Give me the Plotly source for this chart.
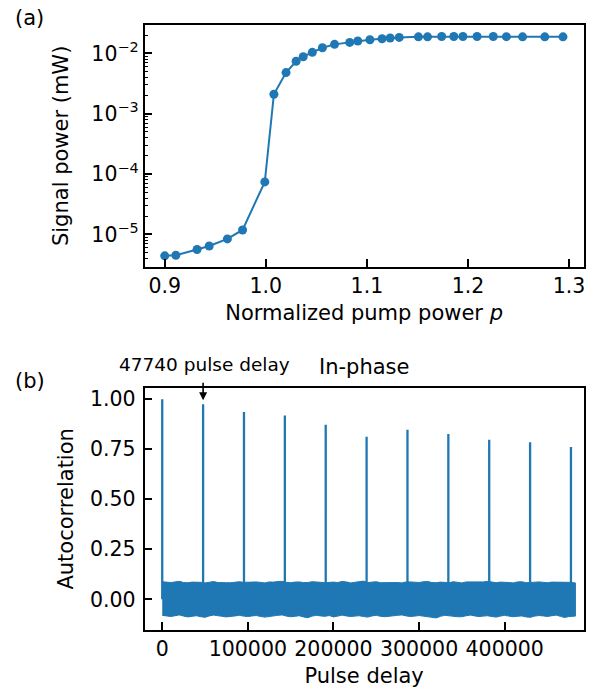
import plotly.graph_objects as go

# panel (a): signal power vs normalized pump power
pump = [0.900, 0.911, 0.932, 0.944, 0.962, 0.977, 0.999, 1.008, 1.020, 1.030,
        1.037, 1.046, 1.056, 1.068, 1.083, 1.091, 1.103, 1.115, 1.123, 1.132,
        1.151, 1.160, 1.174, 1.186, 1.195, 1.209, 1.225, 1.238, 1.254, 1.276, 1.294]
signal = [4.4e-6, 4.5e-6, 5.6e-6, 6.4e-6, 8.4e-6, 1.18e-5, 7.4e-5, 2.1e-3, 4.8e-3, 7.4e-3,
          8.8e-3, 1.04e-2, 1.24e-2, 1.41e-2, 1.52e-2, 1.60e-2, 1.68e-2, 1.75e-2, 1.80e-2, 1.84e-2,
          1.88e-2, 1.88e-2, 1.90e-2, 1.90e-2, 1.90e-2, 1.90e-2, 1.90e-2, 1.89e-2, 1.88e-2, 1.88e-2, 1.88e-2]

# panel (b): autocorrelation peaks
peak_delay = [0, 47740, 95480, 143220, 190960, 238700, 286440, 334180, 381920, 429660, 477400]
peak_height = [1.0, 0.975, 0.936, 0.919, 0.873, 0.813, 0.848, 0.826, 0.798, 0.785, 0.761]

# noise floor envelope
noise_delay = [0, 5000, 10000, 15000, 20000, 25000, 30000, 35000, 40000, 45000,
               50000, 55000, 60000, 65000, 70000, 75000, 80000, 85000, 90000, 95000,
               100000, 105000, 110000, 115000, 120000, 125000, 130000, 135000, 140000, 145000,
               150000, 155000, 160000, 165000, 170000, 175000, 180000, 185000, 190000, 195000,
               200000, 205000, 210000, 215000, 220000, 225000, 230000, 235000, 240000, 245000,
               250000, 255000, 260000, 265000, 270000, 275000, 280000, 285000, 290000, 295000,
               300000, 305000, 310000, 315000, 320000, 325000, 330000, 335000, 340000, 345000,
               350000, 355000, 360000, 365000, 370000, 375000, 380000, 385000, 390000, 395000,
               400000, 405000, 410000, 415000, 420000, 425000, 430000, 435000, 440000, 445000,
               450000, 455000, 460000, 465000, 470000, 475000, 482600]
noise_upper = [0.088, 0.085, 0.084, 0.087, 0.090, 0.084, 0.083, 0.086, 0.087, 0.085,
               0.082, 0.086, 0.089, 0.084, 0.085, 0.083, 0.083, 0.087, 0.088, 0.085,
               0.084, 0.086, 0.087, 0.083, 0.082, 0.087, 0.086, 0.089, 0.090, 0.085,
               0.083, 0.086, 0.087, 0.084, 0.084, 0.088, 0.088, 0.085, 0.083, 0.086,
               0.086, 0.084, 0.089, 0.087, 0.082, 0.085, 0.087, 0.091, 0.084, 0.086,
               0.088, 0.083, 0.083, 0.086, 0.086, 0.084, 0.082, 0.087, 0.087, 0.085,
               0.084, 0.088, 0.089, 0.084, 0.083, 0.086, 0.086, 0.083, 0.088, 0.085,
               0.082, 0.087, 0.087, 0.084, 0.084, 0.087, 0.090, 0.085, 0.083, 0.086,
               0.086, 0.084, 0.082, 0.087, 0.088, 0.083, 0.084, 0.086, 0.087, 0.085,
               0.083, 0.086, 0.086, 0.084, 0.084, 0.085, 0.082]
noise_lower = [-0.080, -0.083, -0.086, -0.082, -0.078, -0.084, -0.088, -0.085, -0.082, -0.087,
               -0.090, -0.083, -0.079, -0.082, -0.085, -0.088, -0.087, -0.083, -0.080, -0.084,
               -0.086, -0.083, -0.081, -0.086, -0.089, -0.085, -0.083, -0.080, -0.078, -0.084,
               -0.087, -0.085, -0.082, -0.088, -0.092, -0.084, -0.080, -0.083, -0.085, -0.081,
               -0.088, -0.084, -0.079, -0.083, -0.086, -0.084, -0.082, -0.086, -0.089, -0.083,
               -0.080, -0.085, -0.087, -0.084, -0.083, -0.080, -0.078, -0.083, -0.086, -0.084,
               -0.081, -0.085, -0.088, -0.090, -0.093, -0.085, -0.080, -0.083, -0.085, -0.087,
               -0.087, -0.082, -0.079, -0.083, -0.086, -0.084, -0.082, -0.086, -0.089, -0.084,
               -0.080, -0.084, -0.087, -0.085, -0.083, -0.088, -0.090, -0.084, -0.081, -0.083,
               -0.086, -0.082, -0.079, -0.085, -0.091, -0.086, -0.084]

blue = "#1f77b4"
font = "DejaVu Sans"

fig = go.Figure()

fig.add_trace(go.Scatter(x=pump, y=signal, mode="lines+markers",
                         line=dict(color=blue, width=2),
                         marker=dict(color=blue, size=9),
                         xaxis="x", yaxis="y", showlegend=False))

fig.add_trace(go.Scatter(x=noise_delay + noise_delay[::-1],
                         y=noise_upper + noise_lower[::-1],
                         fill="toself", fillcolor=blue, mode="lines",
                         line=dict(color=blue, width=1),
                         xaxis="x2", yaxis="y2", showlegend=False))

spike_x, spike_y = [], []
for d, h in zip(peak_delay, peak_height):
    spike_x += [d, d, None]
    spike_y += [0, h, None]
fig.add_trace(go.Scatter(x=spike_x, y=spike_y, mode="lines",
                         line=dict(color=blue, width=2.3),
                         xaxis="x2", yaxis="y2", showlegend=False))

axis_style = dict(showline=True, linecolor="black", linewidth=1.6, mirror=True,
                  ticks="inside", ticklen=8, tickwidth=1.6, tickcolor="black",
                  showgrid=False, zeroline=False,
                  tickfont=dict(family=font, size=20.5, color="black"))

fig.update_layout(
    width=594, height=689,
    margin=dict(l=0, r=0, t=0, b=0),
    paper_bgcolor="white", plot_bgcolor="white",
    font=dict(family=font, color="black"),
    xaxis=dict(axis_style, domain=[0.2441, 0.9860], anchor="y",
               range=[0.880, 1.3145], tickvals=[0.9, 1.0, 1.1, 1.2, 1.3],
               tickformat=".1f",
               title=dict(text="Normalized pump power <i>p</i>", standoff=8,
                          font=dict(family=font, size=21, color="black"))),
    yaxis=dict(axis_style, domain=[0.6129, 0.9637], anchor="x", type="log",
               range=[-5.537, -1.530],
               tickvals=[1e-5, 1e-4, 1e-3, 1e-2],
               ticktext=["10<sup>−5</sup>", "10<sup>−4</sup>", "10<sup>−3</sup>", "10<sup>−2</sup>"],
               minor=dict(ticks="inside", ticklen=4, tickwidth=1.2, tickcolor="black", dtick="D1"),
               title=dict(text="Signal power (mW)", standoff=17,
                          font=dict(family=font, size=21, color="black"))),
    xaxis2=dict(axis_style, domain=[0.2441, 0.9860], anchor="y2",
                range=[-20700, 492300], tickvals=[0, 100000, 200000, 300000, 400000],
                tickformat="d",
                title=dict(text="Pulse delay", standoff=8,
                           font=dict(family=font, size=21, color="black"))),
    yaxis2=dict(axis_style, domain=[0.0856, 0.4373], anchor="x2",
                range=[-0.1535, 1.058], tickvals=[0, 0.25, 0.5, 0.75, 1.0],
                tickformat=".2f", ticklabelstandoff=3,
                title=dict(text="Autocorrelation", standoff=11,
                           font=dict(family=font, size=21, color="black"))),
)

fig.add_annotation(text="(a)", xref="paper", yref="paper", x=0.022, y=0.974,
                   xanchor="left", yanchor="middle", showarrow=False,
                   font=dict(family=font, size=21, color="black"))
fig.add_annotation(text="(b)", xref="paper", yref="paper", x=0.022, y=0.447,
                   xanchor="left", yanchor="middle", showarrow=False,
                   font=dict(family=font, size=21, color="black"))
fig.add_annotation(text="In-phase", xref="paper", yref="paper", x=0.615, y=0.468,
                   xanchor="center", yanchor="middle", showarrow=False,
                   font=dict(family=font, size=21, color="black"))
fig.add_annotation(text="47740 pulse delay", xref="paper", yref="paper", x=0.345, y=0.471,
                   xanchor="center", yanchor="middle", showarrow=False,
                   font=dict(family=font, size=18.5, color="black"))
fig.add_annotation(text="", x=47740, y=0.995, xref="x2", yref="y2",
                   ax=0, ay=-19, showarrow=True, arrowhead=2, arrowsize=1,
                   arrowwidth=1.6, arrowcolor="black")

fig.write_html("out.html", post_script="document.body.style.margin='0';",
               config={"displayModeBar": False})
